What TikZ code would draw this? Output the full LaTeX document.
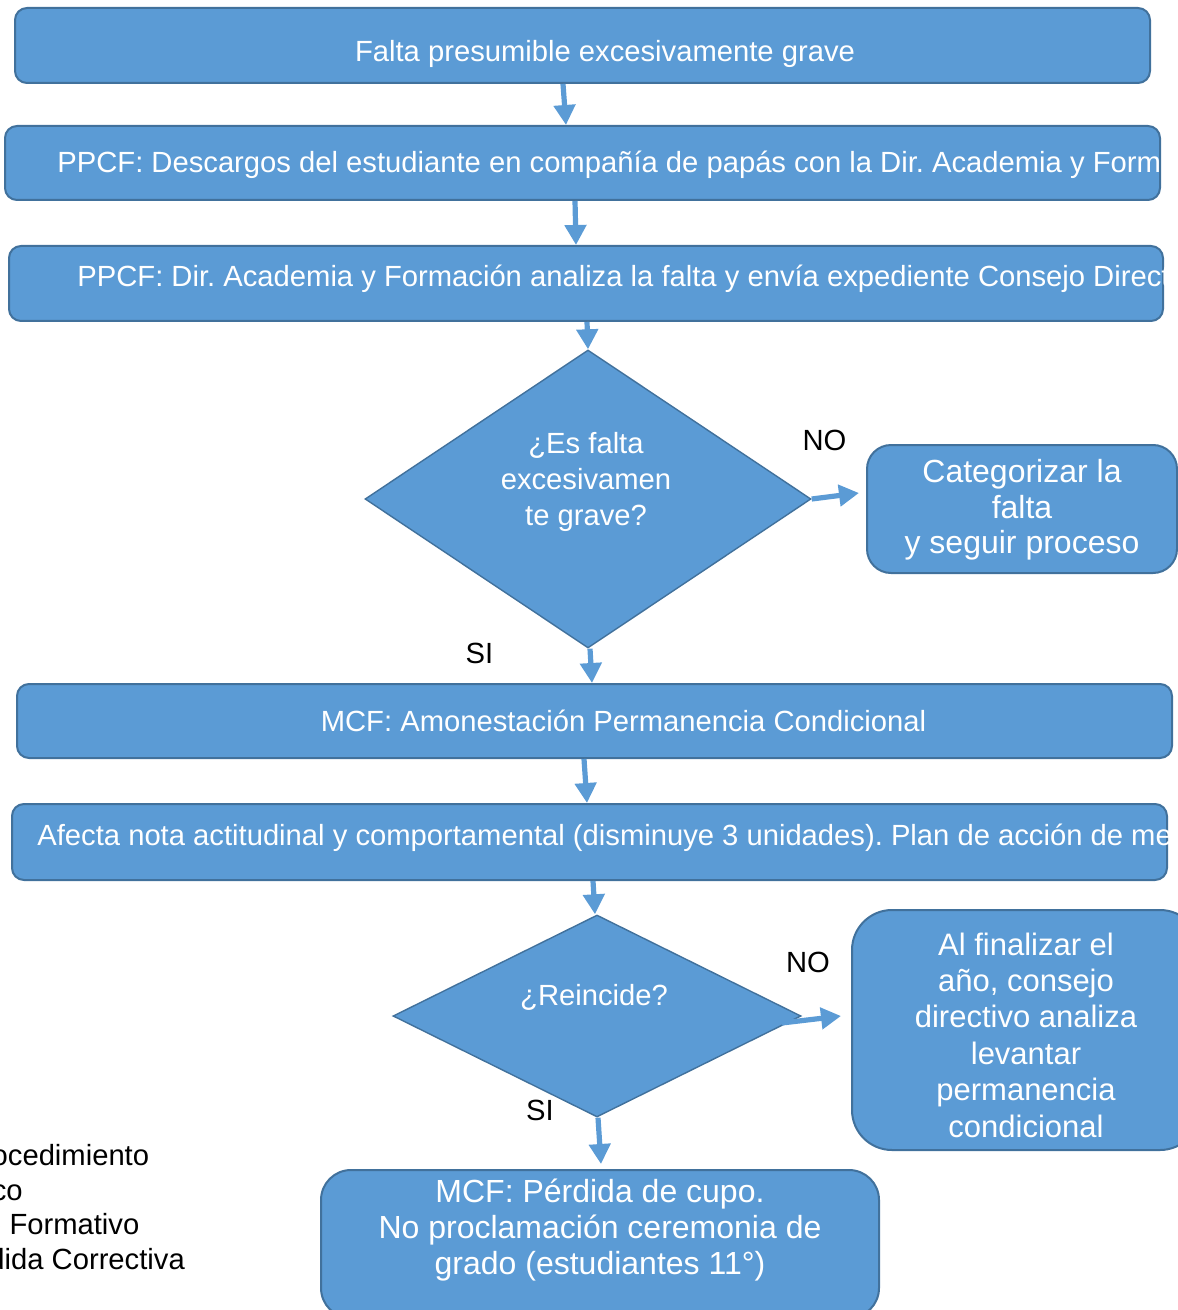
\documentclass[tikz,border=0pt]{standalone}
\usepackage{fontspec}
\setmainfont{Liberation Sans}
\usetikzlibrary{shapes.geometric,arrows.meta}
\definecolor{azul}{HTML}{5B9BD5}
\definecolor{azulborde}{HTML}{41719C}
\tikzset{
  caja/.style={draw=azulborde,fill=azul,line width=1pt,inner sep=0pt},
  rombo/.style={diamond,draw=azulborde,fill=azul,line width=0.7pt,inner sep=0pt},
  flecha/.style={draw=azul,line width=2.6pt,-{Triangle[length=10pt,width=10.5pt]}},
  texto/.style={text=white,inner sep=0pt,align=center,font=\fontsize{14.6pt}{18.2pt}\selectfont},
  etiqueta/.style={text=black,inner sep=0pt,font=\fontsize{14.6pt}{17.2pt}\selectfont}
}
\frenchspacing

\begin{document}
\begin{tikzpicture}[x=0.5pt,y=-0.5pt]
  \useasboundingbox (0,0) rectangle (1177,1310);
  \node[caja,rounded corners=6pt,minimum width=567.5pt,minimum height=37.5pt] (falta) at (582.5,45.5) {};
  \node[caja,rounded corners=6pt,minimum width=577.5pt,minimum height=37pt] (descargos) at (582.5,163) {};
  \node[caja,rounded corners=6pt,minimum width=577pt,minimum height=37.5pt] (analiza) at (586,283.5) {};
  \node[rombo,minimum width=223pt,minimum height=149pt] (esfalta) at (588,499) {};
  \node[caja,rounded corners=12pt,minimum width=155pt,minimum height=64pt] (categ) at (1022,509) {};
  \node[caja,rounded corners=6pt,minimum width=577.5pt,minimum height=37pt] (amonest) at (594.5,721) {};
  \node[caja,rounded corners=6pt,minimum width=577.5pt,minimum height=38pt] (afecta) at (589.5,842) {};
  \node[rombo,minimum width=204pt,minimum height=101pt] (reincide) at (597,1016) {};
  \node[caja,rounded corners=20pt,minimum width=174pt,minimum height=120pt] (finaliza) at (1026,1030) {};
  \node[caja,rounded corners=15pt,minimum width=279pt,minimum height=74pt] (perdida) at (600,1244) {};

  % textos
  \node[texto,anchor=base] (tfalta) at (605,62) {Falta presumible excesivamente grave};
  \begin{scope}
    \clip[rounded corners=6pt] (descargos.south west) rectangle (descargos.north east);
    \node[texto,anchor=base west] (tdescargos) at (57,173) {PPCF: Descargos del estudiante en compañía de papás con la Dir. Academia y Formación};
  \end{scope}
  \begin{scope}
    \clip[rounded corners=6pt] (analiza.south west) rectangle (analiza.north east);
    \node[texto,anchor=base west] (tanaliza) at (77,287) {PPCF: Dir. Academia y Formación analiza la falta y envía expediente Consejo Directivo};
  \end{scope}
  \node[texto] (tesfalta) at (586,482) {¿Es falta\\excesivamen\\te grave?};
  \node[texto,font=\fontsize{16pt}{17.8pt}\selectfont] (tcateg) at (1022,510) {Categorizar la\\falta\\y seguir proceso};
  \node[texto,anchor=base] (tamonest) at (623.5,731) {MCF: Amonestación Permanencia Condicional};
  \begin{scope}
    \clip[rounded corners=6pt] (afecta.south west) rectangle (afecta.north east);
    \node[texto,anchor=base west] (tafecta) at (37,845) {Afecta nota actitudinal y comportamental (disminuye 3 unidades). Plan de acción de mejoramiento};
  \end{scope}
  \node[texto,anchor=base] (treincide) at (594,1005) {¿Reincide?};
  \node[texto,font=\fontsize{15.5pt}{18.2pt}\selectfont] (tfinaliza) at (1026,1035) {Al finalizar el\\año, consejo\\directivo analiza\\levantar\\permanencia\\condicional};
  \node[texto,font=\fontsize{16pt}{18.2pt}\selectfont] (tperdida) at (600,1230) {MCF: Pérdida de cupo.\\No proclamación ceremonia de\\grado (estudiantes 11°)};

  \node[etiqueta,anchor=base] (no1) at (824.5,450) {NO};
  \node[etiqueta,anchor=base] (si1) at (479.5,663) {SI};
  \node[etiqueta,anchor=base] (no2) at (808,972) {NO};
  \node[etiqueta,anchor=base] (si2) at (540,1120) {SI};
  \node[etiqueta,anchor=west,align=left] (leyenda) at (-132,1207) {PPCF: Procedimiento\\Pedagógico\\Correctivo Formativo\\MCF: Medida Correctiva};

  % flechas
  \draw[flecha] ([xshift=-9.75pt]falta.south) -- ([xshift=-8.25pt]descargos.north);
  \draw[flecha] ([xshift=-3.75pt]descargos.south) -- ([xshift=-5pt]analiza.north);
  \draw[flecha] ([xshift=0.5pt]analiza.south) -- (esfalta.north);
  \draw[flecha] (esfalta.east) -- ([xshift=-3.5pt,yshift=8pt]categ.west);
  \draw[flecha] ([xshift=1pt]esfalta.south) -- ([xshift=-1.25pt]amonest.north);
  \draw[flecha] ([xshift=-5.25pt]amonest.south) -- ([xshift=-1.25pt]afecta.north);
  \draw[flecha] ([xshift=1.75pt]afecta.south) -- ([xshift=-1pt]reincide.north);
  \draw[flecha] ([xshift=-10pt,yshift=-3.5pt]reincide.east) -- ([xshift=-5pt,yshift=7pt]finaliza.west);
  \draw[flecha] ([xshift=0.5pt]reincide.south) -- ([xshift=0.5pt,yshift=2.5pt]perdida.north);
\end{tikzpicture}
\end{document}
